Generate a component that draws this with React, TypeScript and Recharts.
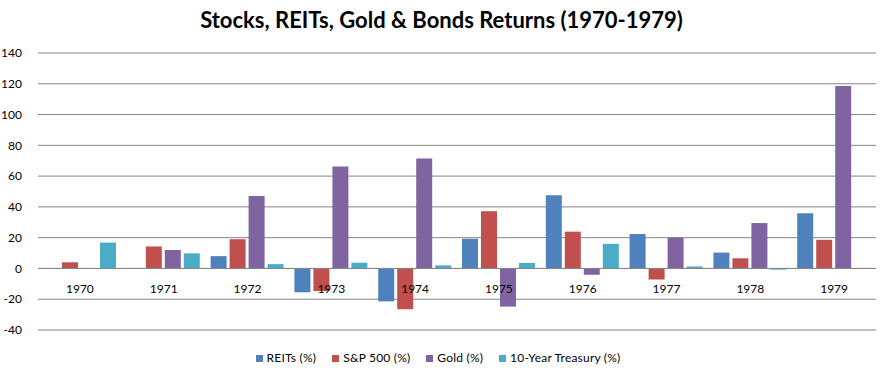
import React from 'react';
import { BarChart, Bar, XAxis, YAxis, CartesianGrid, Legend, ReferenceLine } from 'recharts';

const years = ['1970', '1971', '1972', '1973', '1974', '1975', '1976', '1977', '1978', '1979'];
const reits = [0, 0, 8.0, -15.5, -21.4, 19.3, 47.6, 22.4, 10.3, 35.9];
const sp500 = [4.0, 14.3, 19.0, -14.7, -26.5, 37.2, 23.9, -7.2, 6.6, 18.6];
const gold = [0, 12.0, 47.0, 66.2, 71.5, -24.8, -4.1, 20.0, 29.5, 118.5];
const treasury = [16.8, 9.8, 2.8, 3.7, 2.0, 3.6, 16.0, 1.3, -0.8, 0];
const yTicks = [-40, -20, 0, 20, 40, 60, 80, 100, 120, 140];
const seriesOrder = ['reits', 'sp500', 'gold', 'treasury'];

const data = years.map((y, i) => ({
  year: y,
  reits: reits[i],
  sp500: sp500[i],
  gold: gold[i],
  treasury: treasury[i],
}));

const FONT = 'Lato, "Open Sans", sans-serif';

const XTick = (props: any) => {
  const { x, y, payload } = props;
  return (
    <text x={x} y={y} dy={-45} textAnchor="middle" fill="#000" fontSize={12} fontFamily={FONT}>
      {payload.value}
    </text>
  );
};

export default function App() {
  return (
    <div style={{ position: 'absolute', left: 0, top: 0, width: 883, height: 375, background: '#fff' }}>
      <div
        style={{
          position: 'absolute',
          top: 6,
          left: 0,
          width: 883,
          textAlign: 'center',
          fontFamily: FONT,
          fontWeight: 700,
          fontSize: 22,
          color: '#000',
        }}
      >
        Stocks, REITs, Gold &amp; Bonds Returns (1970-1979)
      </div>
      <BarChart
        width={883}
        height={375}
        data={data}
        margin={{ top: 53, right: 7, left: 0, bottom: 5 }}
        barGap={3}
        barSize={16}
      >
        <CartesianGrid vertical={false} stroke="#868686" strokeWidth={1} />
        <XAxis
          dataKey="year"
          axisLine={false}
          tickLine={false}
          tick={<XTick />}
          height={20}
          interval={0}
        />
        <YAxis
          domain={[-40, 140]}
          ticks={yTicks}
          axisLine={false}
          tickLine={false}
          width={38}
          tick={{ fill: '#000', fontSize: 12, fontFamily: FONT }}
          tickMargin={10}
          interval={0}
        />
        <ReferenceLine y={0} stroke="#868686" strokeWidth={1} />
        <Legend
          verticalAlign="bottom"
          align="center"
          iconType="square"
          iconSize={7}
          height={20}
          itemSorter={(item: any) => seriesOrder.indexOf(item.dataKey)}
          wrapperStyle={{ fontFamily: FONT, fontSize: 12, color: '#000', paddingLeft: 8 }}
          formatter={(v: any) => <span style={{ color: '#000', marginRight: 6, letterSpacing: 0.2 }}>{v}</span>}
        />
        <Bar dataKey="reits" name="REITs (%)" fill="#4F81BD" isAnimationActive={false} />
        <Bar dataKey="sp500" name="S&P 500 (%)" fill="#C0504D" isAnimationActive={false} />
        <Bar dataKey="gold" name="Gold (%)" fill="#8064A2" isAnimationActive={false} />
        <Bar dataKey="treasury" name="10-Year Treasury (%)" fill="#4BACC6" isAnimationActive={false} />
      </BarChart>
    </div>
  );
}
